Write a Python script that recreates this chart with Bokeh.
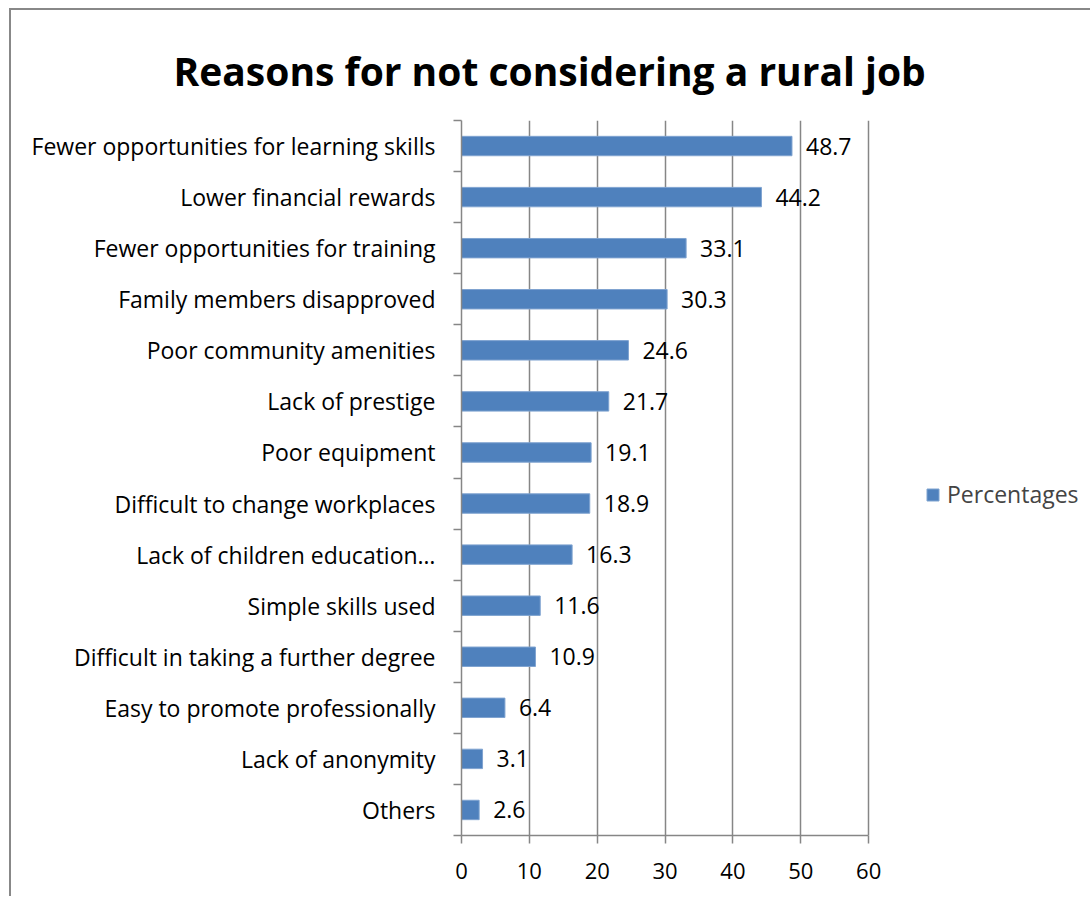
from bokeh.plotting import figure
from bokeh.models import (ColumnDataSource, FixedTicker, Legend, LegendItem)
from bokeh.core.properties import value
from bokeh.embed import file_html
from bokeh.resources import INLINE

# Survey reasons, listed from the top of the chart downwards
reasons = [
    "Fewer opportunities for learning skills",
    "Lower financial rewards",
    "Fewer opportunities for training",
    "Family members disapproved",
    "Poor community amenities",
    "Lack of prestige",
    "Poor equipment",
    "Difficult to change workplaces",
    "Lack of children education…",
    "Simple skills used",
    "Difficult in taking a further degree",
    "Easy to promote professionally",
    "Lack of anonymity",
    "Others",
]
percentages = [48.7, 44.2, 33.1, 30.3, 24.6, 21.7, 19.1, 18.9, 16.3, 11.6, 10.9, 6.4, 3.1, 2.6]
x_ticks = [0, 10, 20, 30, 40, 50, 60]

FONT = "Open Sans"
BLUE = "#4F81BD"
GREY = "#868686"

W, H = 1081, 888
n = len(reasons)
# the frame runs past 60 so the legend can sit to the right of the bars;
# the axis itself is bounded to 0..60
X_END = 92.1
# first reason sits in the top band
ypos = [n - 1 - i + 0.5 for i in range(n)]
src = ColumnDataSource(dict(y=ypos, pct=percentages, reason=reasons,
                            lbl=[f"{v:.1f}" for v in percentages]))

p = figure(width=W, height=H, x_range=(0, X_END), y_range=(0, n),
           output_backend="svg", toolbar_location=None,
           min_border_left=450, min_border_right=6,
           min_border_top=110, min_border_bottom=63)
p.styles = {"margin-left": "9px", "margin-top": "8px",
            "border-left": "2px solid #888888", "border-top": "2px solid #888888"}

p.outline_line_color = None
p.background_fill_color = "white"
p.border_fill_color = "white"

# title centred over the whole chart: left-aligned and pulled back past the frame edge
p.title.text = "Reasons for not considering a rural job"
p.title.align = "left"
p.title.vertical_align = "top"
p.title.offset = -288
p.title.standoff = 44
p.title.text_font = FONT
p.title.text_font_size = "39px"
p.title.text_font_style = "bold"
p.title.text_color = "black"

bars = p.hbar(y="y", right="pct", left=0, height=0.38, source=src,
              fill_color=BLUE, line_color="#7FA3D0", line_width=1)

# value labels just past the end of each bar
p.text(x="pct", y="y", text="lbl", source=src, x_offset=14,
       text_baseline="middle", text_align="left", text_font=value(FONT),
       text_font_size="23px", text_color="black")

# horizontal axis
p.xaxis.bounds = (0, 60)
p.xaxis.ticker = FixedTicker(ticks=x_ticks)
p.xaxis.axis_line_color = GREY
p.xaxis.axis_line_width = 1.5
p.xaxis.major_tick_line_color = GREY
p.xaxis.major_tick_line_width = 1.5
p.xaxis.major_tick_in = 0
p.xaxis.major_tick_out = 8
p.xaxis.minor_tick_line_color = None
p.xaxis.major_label_text_font = FONT
p.xaxis.major_label_text_font_size = "22px"
p.xaxis.major_label_text_color = "black"
p.xaxis.major_label_standoff = 19

# vertical axis: labels centred in each band, tick marks between bands
p.yaxis.ticker = FixedTicker(ticks=ypos, minor_ticks=list(range(n + 1)))
p.yaxis.major_label_overrides = {y: r for y, r in zip(ypos, reasons)}
p.yaxis.axis_line_color = GREY
p.yaxis.axis_line_width = 1.5
p.yaxis.major_tick_line_color = None
p.yaxis.minor_tick_line_color = GREY
p.yaxis.minor_tick_line_width = 1.5
p.yaxis.minor_tick_in = 0
p.yaxis.minor_tick_out = 8
p.yaxis.major_label_text_font = FONT
p.yaxis.major_label_text_font_size = "23px"
p.yaxis.major_label_text_color = "black"
p.yaxis.major_label_standoff = 18

p.xgrid.grid_line_color = GREY
p.xgrid.grid_line_width = 1.5
p.xgrid.ticker = FixedTicker(ticks=x_ticks)
p.ygrid.grid_line_color = None

legend = Legend(items=[LegendItem(label="Percentages", renderers=[bars])],
                location=(464, 325), border_line_color=None,
                background_fill_alpha=0, label_text_font=FONT,
                label_text_font_size="23px", glyph_width=15, glyph_height=15,
                label_standoff=7, padding=0, margin=0)
p.add_layout(legend)

open("out.html", "w").write(file_html(p, INLINE))
